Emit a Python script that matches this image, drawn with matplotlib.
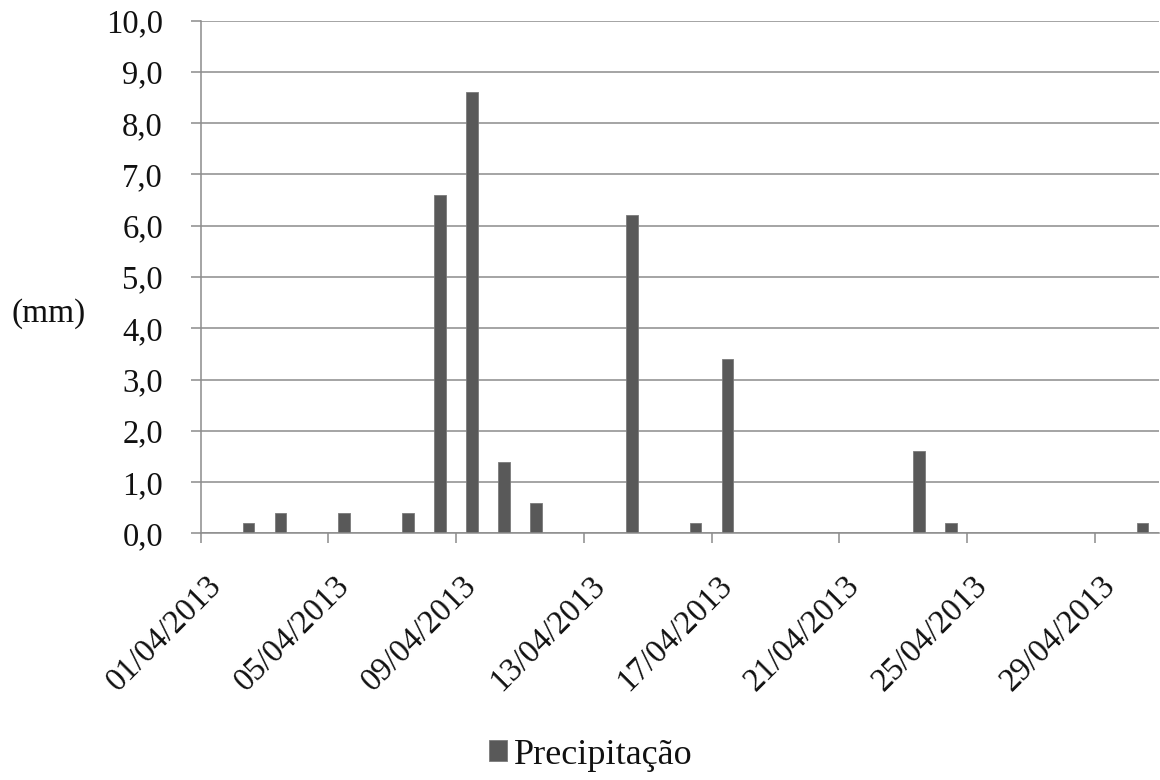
import datetime as dt
import matplotlib
matplotlib.use("Agg")
import matplotlib.pyplot as plt
import matplotlib.dates as mdates
import matplotlib.transforms as mtransforms
from matplotlib.patches import Patch
from matplotlib.ticker import FuncFormatter, MultipleLocator, FixedLocator

# Daily precipitation, April 2013 (mm)
days = list(range(1, 31))
precip_mm = [0.0, 0.2, 0.4, 0.0, 0.4, 0.0, 0.4, 6.6, 8.6, 1.4,
             0.6, 0.0, 0.0, 6.2, 0.0, 0.2, 3.4, 0.0, 0.0, 0.0,
             0.0, 0.0, 1.6, 0.2, 0.0, 0.0, 0.0, 0.0, 0.0, 0.2]
tick_days = [1, 5, 9, 13, 17, 21, 25, 29]
series_name = "Precipitação"
y_label = "(mm)"

plt.rcParams["font.family"] = ["Liberation Serif", "DejaVu Serif"]

GRID = "#8c8c8c"
BAR = "#595959"
FS = 23.5

dates = [dt.datetime(2013, 4, d) for d in days]
centers = [d + dt.timedelta(hours=12) for d in dates]
tick_dates = [dt.datetime(2013, 4, d) for d in tick_days]

fig = plt.figure(figsize=(11.6, 7.8), dpi=100)
ax = fig.add_axes([200.7 / 1160, 1 - 533.3 / 780,
                   (1158.5 - 200.7) / 1160, (533.3 - 20.7) / 780])

ax.bar(centers, precip_mm, width=0.37, color=BAR, edgecolor="#7a7a7a",
       linewidth=0.6, zorder=3)

ax.set_xlim(dt.datetime(2013, 4, 1), dt.datetime(2013, 5, 1))
ax.set_ylim(0, 10)
ax.yaxis.set_major_locator(MultipleLocator(1))
ax.yaxis.set_major_formatter(FuncFormatter(lambda v, p: f"{v:.1f}".replace(".", ",")))
ax.xaxis.set_major_locator(FixedLocator(mdates.date2num(tick_dates)))
ax.xaxis.set_major_formatter(mdates.DateFormatter("%d/%m/%Y"))

ax.grid(axis="y", color=GRID, linewidth=1.1, zorder=0)
ax.set_axisbelow(True)
for side in ("top", "right"):
    ax.spines[side].set_visible(False)
for side in ("left", "bottom"):
    ax.spines[side].set_color(GRID)
    ax.spines[side].set_linewidth(1.1)
    ax.spines[side].set_zorder(4)

ax.tick_params(axis="both", direction="out", length=7.2, width=1.1,
               color=GRID, labelsize=FS, labelcolor="#111111")
ax.tick_params(axis="y", pad=20)
ax.tick_params(axis="x", pad=27)

shift = mtransforms.ScaledTranslation(0.16, 0, fig.dpi_scale_trans)
for lab in ax.get_xticklabels():
    lab.set_rotation(45)
    lab.set_ha("right")
    lab.set_va("center")
    lab.set_rotation_mode("anchor")
    lab.set_transform(lab.get_transform() + shift)

fig.text(49 / 1160, 1 - 314 / 780, y_label, fontsize=24, color="#111111",
         ha="center", va="center")

fig.legend(handles=[Patch(facecolor=BAR, edgecolor="#7a7a7a", linewidth=0.6,
                          label=series_name)],
           loc="center", bbox_to_anchor=(591 / 1160, 1 - 755 / 780),
           frameon=False, fontsize=26, handlelength=0.5, handleheight=0.5,
           handletextpad=0.2, labelcolor="#111111")

fig.savefig("out.png", dpi=100)
